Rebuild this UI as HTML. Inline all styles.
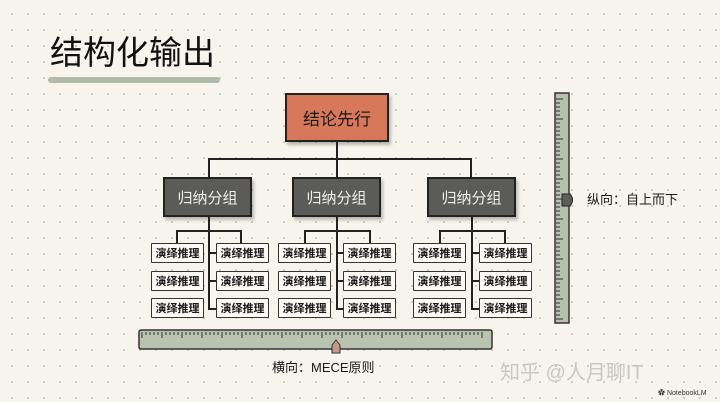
<!DOCTYPE html>
<html><head><meta charset="utf-8"><style>
body{margin:0}
#c{position:relative;width:720px;height:402px;overflow:hidden;background-color:#f6f4ec;
background-image:radial-gradient(circle,#c9c6bb 0.8px,transparent 1.2px);background-size:16px 16px;background-position:4px 6px;
font-family:"Liberation Sans","Noto Sans CJK SC",sans-serif;color:#1a1a1a}
.a{position:absolute;box-sizing:border-box}
.gb{background:#5b5b5a;border:2px solid #222;color:#eee;font-size:15px;display:flex;align-items:center;justify-content:center;box-shadow:2px 3px 3px rgba(0,0,0,.25)}
.lf{background:#fbfaf5;border:1.5px solid #333;font-size:11px;font-weight:bold;display:flex;align-items:center;justify-content:center;border-radius:1px}
.l{position:absolute;background:#222}
</style></head><body><div id="c">
<div class="a" style="left:50px;top:33px;font-size:33px;line-height:40px;color:#111">结构化输出</div>
<div class="a" style="left:48px;top:77px;width:172px;height:6px;background:#a9b6a3;border-radius:4px;opacity:.9"></div>

<div class="a" style="left:285px;top:93px;width:104px;height:49px;background:#d8785a;border:2px solid #222;font-size:17px;display:flex;align-items:center;justify-content:center;box-shadow:2px 3px 3px rgba(0,0,0,.25)">结论先行</div>
<div class="l" style="left:336px;top:142px;width:2px;height:17px"></div>
<div class="l" style="left:208px;top:158px;width:264px;height:2px"></div>
<div class="l" style="left:208px;top:158px;width:2px;height:19px"></div>
<div class="l" style="left:336px;top:158px;width:2px;height:19px"></div>
<div class="l" style="left:470px;top:158px;width:2px;height:19px"></div>

<div class="a gb" style="left:163px;top:177px;width:89px;height:40px">归纳分组</div>
<div class="a gb" style="left:292px;top:177px;width:89px;height:40px">归纳分组</div>
<div class="a gb" style="left:427px;top:177px;width:89px;height:40px">归纳分组</div>

<!-- group 1 -->
<div class="l" style="left:208px;top:217px;width:1.5px;height:92px"></div>
<div class="l" style="left:176px;top:230px;width:65px;height:1.5px"></div>
<div class="l" style="left:176px;top:230px;width:1.5px;height:13px"></div>
<div class="l" style="left:240px;top:230px;width:1.5px;height:13px"></div>
<div class="l" style="left:208px;top:252px;width:8px;height:1.5px"></div>
<div class="l" style="left:208px;top:280px;width:8px;height:1.5px"></div>
<div class="l" style="left:208px;top:308px;width:8px;height:1.5px"></div>
<!-- group 2 -->
<div class="l" style="left:336px;top:217px;width:1.5px;height:92px"></div>
<div class="l" style="left:304px;top:230px;width:66px;height:1.5px"></div>
<div class="l" style="left:304px;top:230px;width:1.5px;height:13px"></div>
<div class="l" style="left:369px;top:230px;width:1.5px;height:13px"></div>
<div class="l" style="left:336px;top:252px;width:8px;height:1.5px"></div>
<div class="l" style="left:336px;top:280px;width:8px;height:1.5px"></div>
<div class="l" style="left:336px;top:308px;width:8px;height:1.5px"></div>
<!-- group 3 -->
<div class="l" style="left:471px;top:217px;width:1.5px;height:92px"></div>
<div class="l" style="left:439px;top:230px;width:66px;height:1.5px"></div>
<div class="l" style="left:439px;top:230px;width:1.5px;height:13px"></div>
<div class="l" style="left:504px;top:230px;width:1.5px;height:13px"></div>
<div class="l" style="left:471px;top:252px;width:8px;height:1.5px"></div>
<div class="l" style="left:471px;top:280px;width:8px;height:1.5px"></div>
<div class="l" style="left:471px;top:308px;width:8px;height:1.5px"></div>

<div id="leaves"></div>
<script>
var xs=[151,216,278,343,413,479],ys=[243,271,298],h='';
xs.forEach(function(x){ys.forEach(function(y){h+='<div class="a lf" style="left:'+x+'px;top:'+y+'px;width:53px;height:20px">演绎推理</div>';});});
document.getElementById('leaves').innerHTML=h;
</script>

<!-- vertical ruler -->
<svg class="a" style="left:550px;top:90px" width="30" height="236">
<rect x="5" y="3" width="14" height="230" fill="#b7c0ac" stroke="#333" stroke-width="1.5"/>
<g stroke="#333" stroke-width="1">
<script>/*ticks*/</script>
</g>
<path id="vt" d="" stroke="#333" stroke-width="1" fill="none"/>
<path d="M12 104 L20 104 Q25 110 20 116 L12 116 Z" transform="translate(0,0)" fill="#5d5f58" stroke="#222"/>
</svg>
<div class="a" style="left:587px;top:191px;font-size:13px;line-height:18px">纵向：自上而下</div>

<!-- horizontal ruler -->
<svg class="a" style="left:136px;top:326px" width="360" height="30">
<rect x="3" y="4" width="353" height="19" rx="2" fill="#b9c4ae" stroke="#333" stroke-width="1.5"/>
<path id="ht" d="" stroke="#333" stroke-width="1" fill="none"/>
<path d="M196 19 L200 14 L204 19 L204 27 L196 27 Z" fill="#c49a86" stroke="#333"/>
</svg>
<script>
var d='';for(var i=0;i<56;i++){var y=9+i*4;d+='M6 '+(y+90-90)+' h'+(i%5==0?7:4)+' ';}
document.getElementById('vt').setAttribute('d',d);
var e='';for(var j=0;j<86;j++){var x=6+j*4;e+='M'+x+' 6 v'+(j%5==0?6:3)+' ';}
document.getElementById('ht').setAttribute('d',e);
</script>
<div class="a" style="left:272px;top:359px;font-size:13px;line-height:18px">横向：MECE原则</div>
<div class="a" style="left:500px;top:360px;font-size:20px;line-height:26px;color:#c9c7c0">知乎 @人月聊IT</div>
<div class="a" style="left:658px;top:388px;font-size:7px;color:#333">✿ NotebookLM</div>
</div></body></html>
